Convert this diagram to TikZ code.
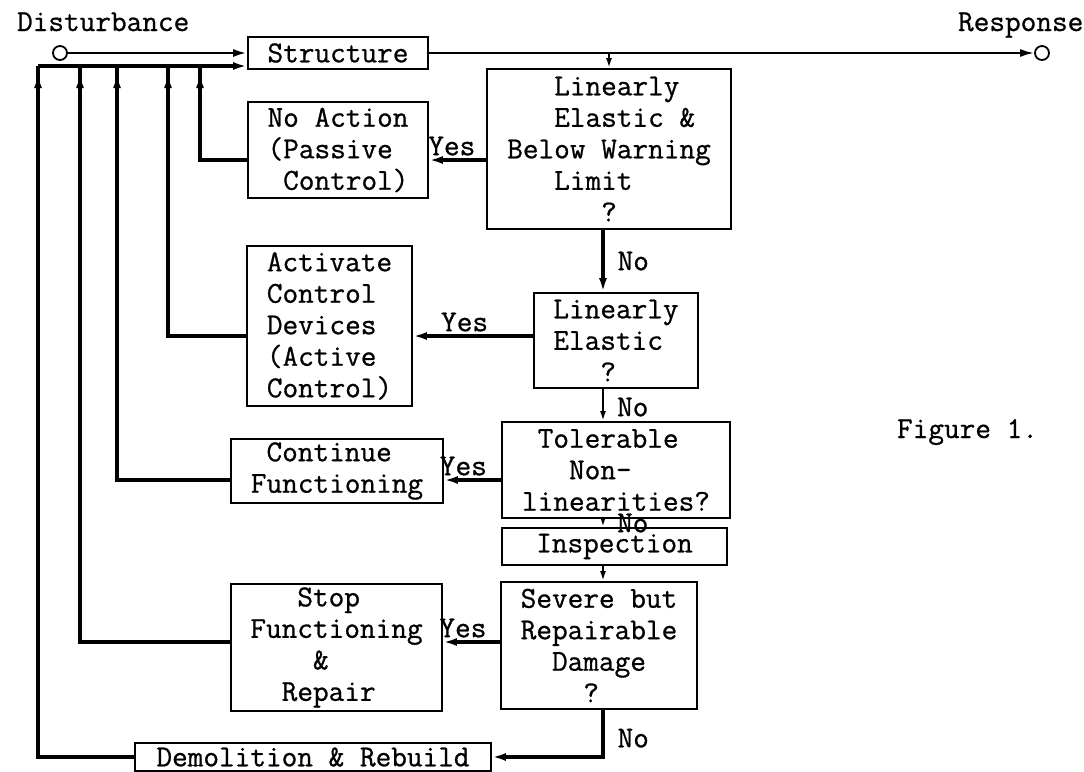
\documentclass[tikz,border=0pt]{standalone}
\usepackage{fontspec}
\newfontfamily\typew{Latin Modern Mono}[FakeBold=0.8]
\usetikzlibrary{arrows.meta,decorations.markings}
\tikzset{
  box/.style={draw, line width=0.9pt, inner sep=0pt, align=left},
  port/.style={circle, draw, line width=0.9pt, minimum size=7pt, inner sep=0pt},
  lbl/.style={inner sep=1.5pt},
  flow/.style={line width=1.6pt, -{Latex[length=7pt,width=4pt]}},
  link/.style={line width=1.1pt, -{Latex[length=5pt,width=3pt]}},
  fb/.style={line width=1.6pt, postaction={decorate},
    decoration={markings, mark=at position -4pt with {\arrow{Latex[length=7pt,width=4pt]}}}},
}

\begin{document}
\begin{tikzpicture}[font=\typew\fontsize{15.2}{15.75}\selectfont, x=0.5pt, y=-0.5pt]
  \useasboundingbox (0,0) rectangle (1084,772);

  % input and output of the structure
  \node[anchor=base west] (distlbl) at (10,31) {Disturbance};
  \node[anchor=base west] (resplbl) at (951,31) {Response};
  \node[port] (din) at (60,53) {};
  \node[port] (dout) at (1042,53) {};
  \node[box, minimum width=90pt, minimum height=16pt] (struct) at (338,53) {Structure};

  % decisions
  \node[box, minimum width=122pt, minimum height=80pt] (q1) at (609,149)
    {\hphantom{xxx}Linearly\\\hphantom{xxx}Elastic \&\\Below Warning\\\hphantom{xxx}Limit\\\hphantom{xxxxxx}?};
  \node[box, minimum width=82pt, minimum height=47.5pt] (q2) at (616,340.5)
    {Linearly\\Elastic\\\hphantom{xxx}?};
  \node[box, minimum width=114pt, minimum height=48pt] (q3) at (616,470)
    {\hphantom{x}Tolerable\\\hphantom{xxx}Non-\\linearities?};
  \node[box, minimum width=112.5pt, minimum height=18.5pt] (insp) at (614.5,546.5) {Inspection};
  \node[box, minimum width=98pt, minimum height=63.5pt] (q4) at (599,645.5)
    {Severe but\\Repairable\\\hphantom{xx}Damage\\\hphantom{xxxx}?};

  % actions
  \node[box, minimum width=90pt, minimum height=48pt] (noact) at (338,150)
    {No Action\\(Passive\\\hphantom{x}Control)};
  \node[box, minimum width=82.5pt, minimum height=80pt] (activ) at (329.5,326)
    {Activate\\Control\\Devices\\(Active\\Control)};
  \node[box, minimum width=106pt, minimum height=32pt] (cont) at (337,471)
    {\hphantom{x}Continue\\Functioning};
  \node[box, minimum width=105.5pt, minimum height=63.5pt] (stop) at (336.5,647.5)
    {\hphantom{xxx}Stop\\Functioning\\\hphantom{xxxx}\&\\\hphantom{xx}Repair};
  \node[box, minimum width=178pt, minimum height=14pt] (demol) at (313,757) {Demolition \& Rebuild};

  \node[anchor=base west] (cap) at (890,438) {Figure 1.};

  % feedback bus and the levels of the yes-branches
  \coordinate (b1) at (200,66);
  \coordinate (b2) at (168,66);
  \coordinate (b3) at (117,66);
  \coordinate (b4) at (80,66);
  \coordinate (b5) at (38,66);
  \coordinate (y1) at (0,160);
  \coordinate (y2) at (0,336);
  \coordinate (y3) at (0,480);
  \coordinate (y4) at (0,642);
  \coordinate (col) at (603,0);

  \draw[line width=1.3pt, -{Latex[length=7pt,width=4pt]}] (din) -- (struct.west);
  \draw[flow] (b5) -- (struct.west |- b5);
  \draw[line width=1.1pt, -{Latex[length=7pt,width=4pt]}] (struct.east) -- (dout);
  \draw[link] (struct.east -| q1.north) -- (q1.north);

  % no-branches down the column
  \draw[flow] (q1.south -| col) -- (q2.north -| col) node[lbl, midway, right=5pt] {No};
  \draw[link] (q2.south -| col) -- (q3.north -| col) node[lbl, midway, right=5pt, yshift=-1pt] {No};
  \draw[link] (q3.south -| col) -- (insp.north -| col) node[midway, inner sep=0pt, right=6.5pt] {No};
  \draw[link] (insp.south -| col) -- (q4.north -| col);
  \draw[flow] (q4.south -| col) |- (demol.east) node[lbl, pos=0.3, right=5pt] {No};

  % yes-branches
  \draw[flow] (q1.west |- y1) -- (noact.east |- y1) node[lbl, pos=0.6, above] {Yes};
  \draw[flow] (q2.west |- y2) -- (activ.east |- y2) node[lbl, pos=0.57, above] {Yes};
  \draw[flow] (q3.west |- y3) -- (cont.east |- y3) node[lbl, pos=0.66, above] {Yes};
  \draw[flow] (q4.west |- y4) -- (stop.east |- y4) node[lbl, pos=0.65, above] {Yes};

  % back to the structure
  \draw[fb] (noact.west |- y1) -| (b1);
  \draw[fb] (activ.west |- y2) -| (b2);
  \draw[fb] (cont.west |- y3) -| (b3);
  \draw[fb] (stop.west |- y4) -| (b4);
  \draw[fb] (demol.west) -| (b5);
\end{tikzpicture}
\end{document}
